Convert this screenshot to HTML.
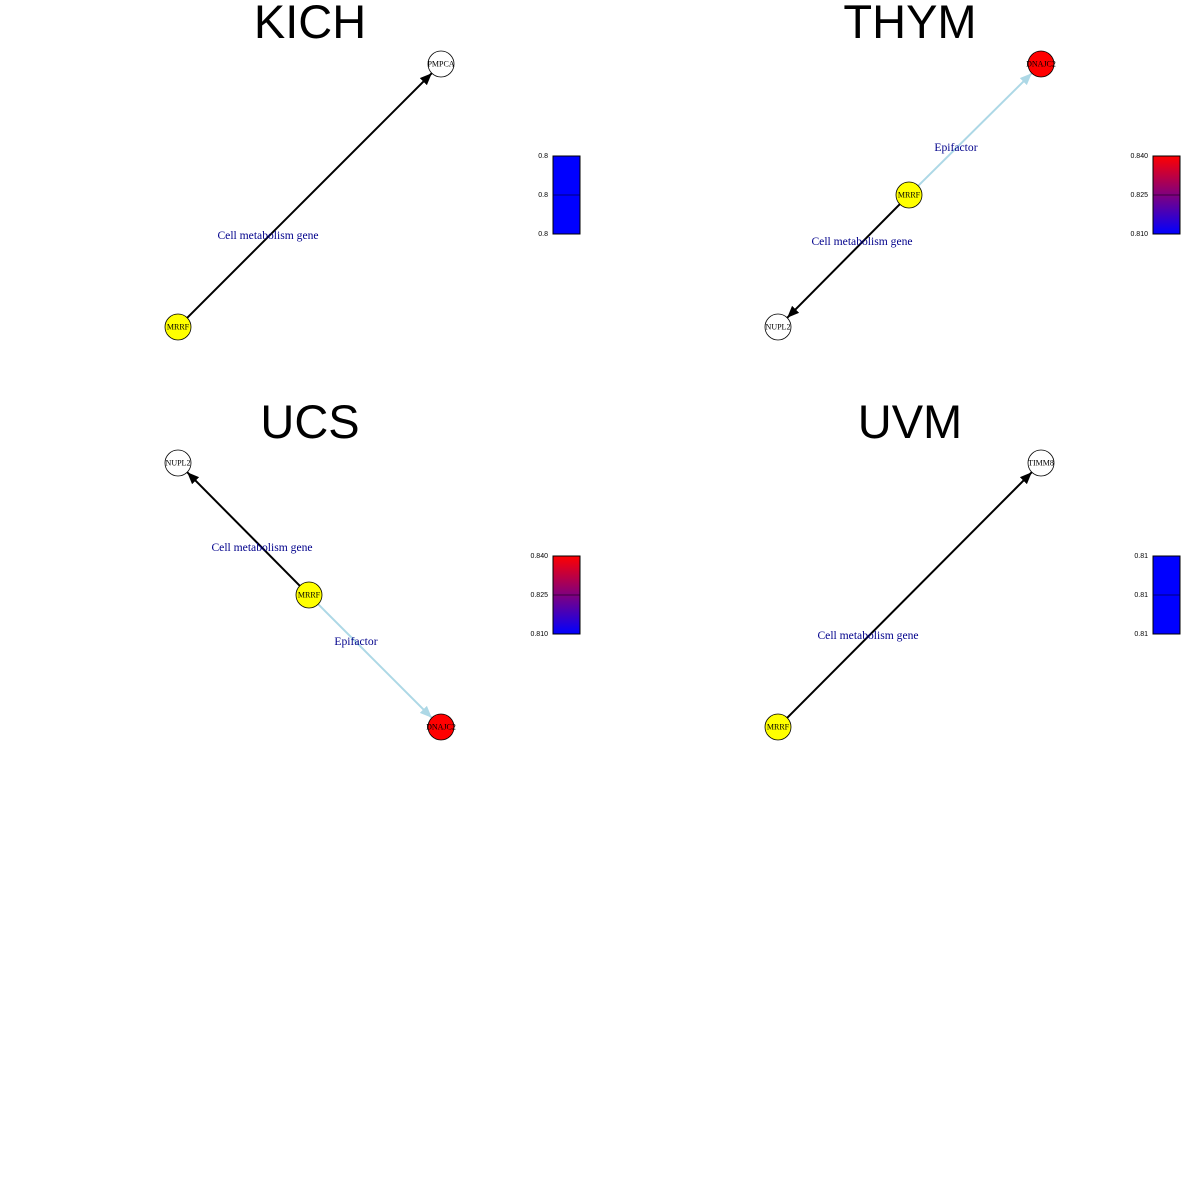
<!DOCTYPE html>
<html><head><meta charset="utf-8"><style>
html,body{margin:0;padding:0;background:#fff;}
svg{display:block;}
.t{font-family:"Liberation Sans",sans-serif;font-size:47px;text-anchor:middle;}
.n{font-family:"Liberation Serif",serif;font-size:8px;text-anchor:middle;dominant-baseline:central;}
.l{font-family:"Liberation Serif",serif;font-size:11.6px;fill:#00008b;text-anchor:middle;}
.c{font-family:"Liberation Sans",sans-serif;font-size:7px;text-anchor:end;}
</style></head><body>
<svg width="1200" height="1200" viewBox="0 0 1200 1200" xmlns="http://www.w3.org/2000/svg">
<defs>
<marker id="ab" markerUnits="userSpaceOnUse" markerWidth="14" markerHeight="10" refX="12" refY="5" orient="auto"><path d="M0,0 L12,5 L0,10 z" fill="#000"/></marker>
<marker id="al" markerUnits="userSpaceOnUse" markerWidth="14" markerHeight="10" refX="12" refY="5" orient="auto"><path d="M0,0 L12,5 L0,10 z" fill="#add8e6"/></marker>
<linearGradient id="g" x1="0" y1="1" x2="0" y2="0"><stop offset="0" stop-color="#00f"/><stop offset="1" stop-color="#f00"/></linearGradient>
</defs>
<text class="t" x="310" y="38">KICH</text>
<text class="t" x="910" y="38">THYM</text>
<text class="t" x="310" y="438">UCS</text>
<text class="t" x="910" y="438">UVM</text>
<!-- KICH -->
<line x1="187.2" y1="317.8" x2="431.8" y2="73.2" stroke="#000" stroke-width="2" marker-end="url(#ab)"/>
<text class="l" x="268" y="239">Cell metabolism gene</text>
<circle cx="178" cy="327" r="13" fill="#ff0" stroke="#000" stroke-width="0.8"/><text class="n" x="178" y="327">MRRF</text>
<circle cx="441" cy="64" r="13" fill="#fff" stroke="#000" stroke-width="0.8"/><text class="n" x="441" y="64">PMPCA</text>
<rect x="553" y="156" width="27" height="78" fill="#00f" stroke="#000"/><line x1="553" y1="195" x2="580" y2="195" stroke="#000" stroke-width="0.6"/>
<text class="c" x="548" y="158">0.8</text><text class="c" x="548" y="197">0.8</text><text class="c" x="548" y="236">0.8</text>
<!-- THYM -->
<line x1="918.2" y1="185.8" x2="1031.8" y2="73.2" stroke="#add8e6" stroke-width="2" marker-end="url(#al)"/>
<line x1="899.8" y1="204.2" x2="787.2" y2="317.8" stroke="#000" stroke-width="2" marker-end="url(#ab)"/>
<text class="l" x="956" y="151">Epifactor</text>
<text class="l" x="862" y="245">Cell metabolism gene</text>
<circle cx="909" cy="195" r="13" fill="#ff0" stroke="#000" stroke-width="0.8"/><text class="n" x="909" y="195">MRRF</text>
<circle cx="1041" cy="64" r="13" fill="#f00" stroke="#000" stroke-width="0.8"/><text class="n" x="1041" y="64">DNAJC2</text>
<circle cx="778" cy="327" r="13" fill="#fff" stroke="#000" stroke-width="0.8"/><text class="n" x="778" y="327">NUPL2</text>
<rect x="1153" y="156" width="27" height="78" fill="url(#g)" stroke="#000"/><line x1="1153" y1="195" x2="1180" y2="195" stroke="#000" stroke-width="0.6"/>
<text class="c" x="1148" y="158">0.840</text><text class="c" x="1148" y="197">0.825</text><text class="c" x="1148" y="236">0.810</text>
<!-- UCS -->
<line x1="299.8" y1="585.8" x2="187.2" y2="472.2" stroke="#000" stroke-width="2" marker-end="url(#ab)"/>
<line x1="318.2" y1="604.2" x2="431.8" y2="717.8" stroke="#add8e6" stroke-width="2" marker-end="url(#al)"/>
<text class="l" x="262" y="551">Cell metabolism gene</text>
<text class="l" x="356" y="645">Epifactor</text>
<circle cx="178" cy="463" r="13" fill="#fff" stroke="#000" stroke-width="0.8"/><text class="n" x="178" y="463">NUPL2</text>
<circle cx="309" cy="595" r="13" fill="#ff0" stroke="#000" stroke-width="0.8"/><text class="n" x="309" y="595">MRRF</text>
<circle cx="441" cy="727" r="13" fill="#f00" stroke="#000" stroke-width="0.8"/><text class="n" x="441" y="727">DNAJC2</text>
<rect x="553" y="556" width="27" height="78" fill="url(#g)" stroke="#000"/><line x1="553" y1="595" x2="580" y2="595" stroke="#000" stroke-width="0.6"/>
<text class="c" x="548" y="558">0.840</text><text class="c" x="548" y="597">0.825</text><text class="c" x="548" y="636">0.810</text>
<!-- UVM -->
<line x1="787.2" y1="717.8" x2="1031.8" y2="472.2" stroke="#000" stroke-width="2" marker-end="url(#ab)"/>
<text class="l" x="868" y="639">Cell metabolism gene</text>
<circle cx="778" cy="727" r="13" fill="#ff0" stroke="#000" stroke-width="0.8"/><text class="n" x="778" y="727">MRRF</text>
<circle cx="1041" cy="463" r="13" fill="#fff" stroke="#000" stroke-width="0.8"/><text class="n" x="1041" y="463">TIMM8</text>
<rect x="1153" y="556" width="27" height="78" fill="#00f" stroke="#000"/><line x1="1153" y1="595" x2="1180" y2="595" stroke="#000" stroke-width="0.6"/>
<text class="c" x="1148" y="558">0.81</text><text class="c" x="1148" y="597">0.81</text><text class="c" x="1148" y="636">0.81</text>
</svg>
</body></html>
